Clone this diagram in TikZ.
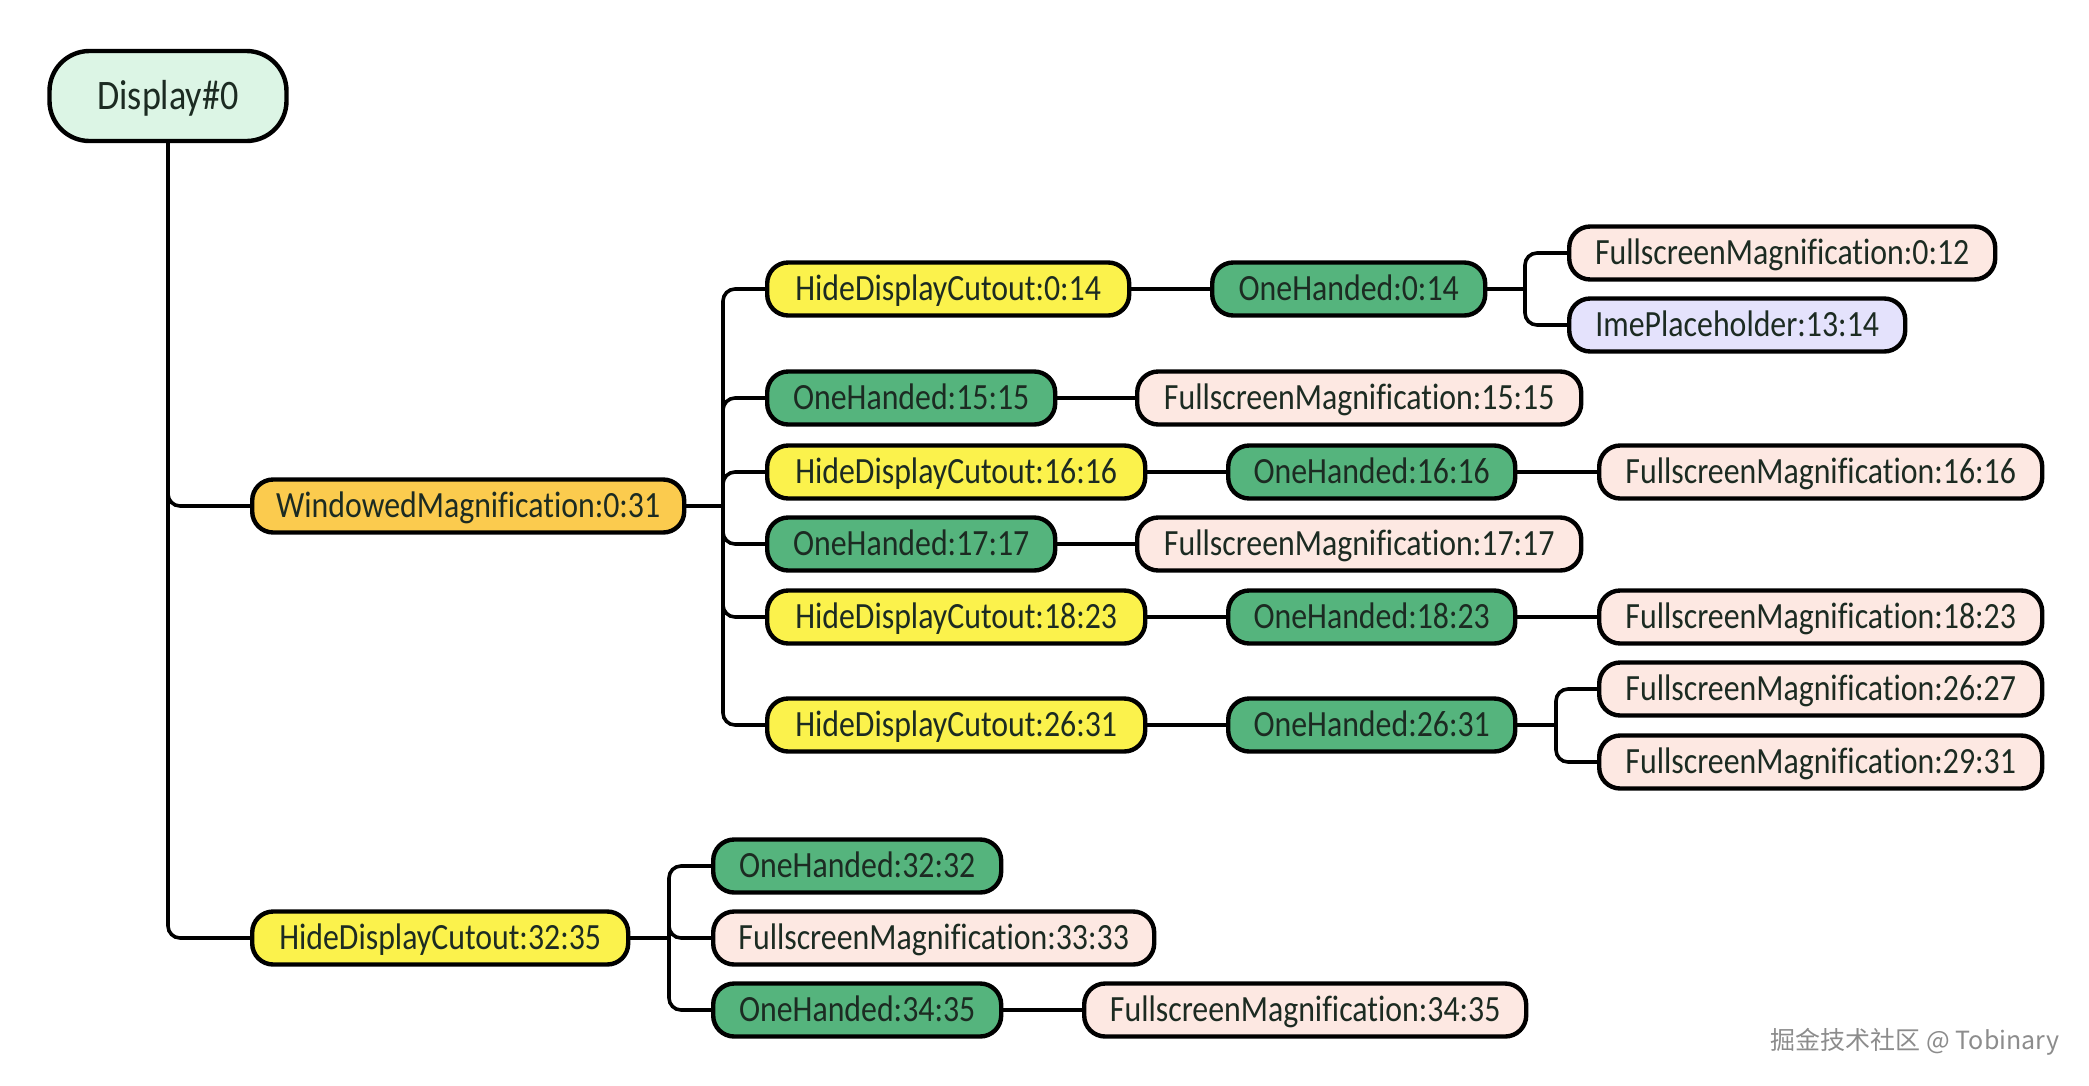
\documentclass[tikz,border=0pt]{standalone}
\usepackage{fontspec}
\setmainfont{Carlito}[FakeStretch=0.86, Ligatures=NoCommon]
\newfontfamily\cjk{Noto Sans CJK SC}
\usetikzlibrary{calc}
\definecolor{txt}{HTML}{1C2B22}
\definecolor{mint}{HTML}{DCF5E5}
\definecolor{amber}{HTML}{FBCB4E}
\definecolor{yel}{HTML}{FBF24C}
\definecolor{grn}{HTML}{55B47D}
\definecolor{pnk}{HTML}{FDE8E2}
\definecolor{lav}{HTML}{E4E2FC}
\begin{document}
\begin{tikzpicture}[x=1pt,y=-1pt,
  box/.style={draw=black, line width=4.4pt, rounded corners=21pt, minimum height=53pt,
    inner sep=0pt, text height=24.5pt, text depth=1.5pt,
    font=\fontsize{37}{40}\selectfont, text=txt, anchor=west},
  wmbox/.style={box, fill=amber},
  hdc/.style={box, fill=yel},
  oh/.style={box, fill=grn},
  fm/.style={box, fill=pnk},
  ime/.style={box, fill=lav},
  conn/.style={draw=black, line width=3.6pt, rounded corners=12pt}]
\useasboundingbox (0,0) rectangle (2089,1085);

% root
\node[draw=black, line width=4.4pt, rounded corners=40pt, fill=mint, minimum width=237pt,
  minimum height=90pt, inner sep=0pt, text height=28pt, text depth=2pt,
  font=\fontsize{42}{46}\selectfont, text=txt] (d) at (168,96) {Display\#0};

% level 1
\node[wmbox, minimum width=432pt] (wm) at (250,506) {WindowedMagnification:0:31};
\node[hdc, minimum width=376pt] (h3235) at (250,938) {HideDisplayCutout:32:35};

% level 2 (under WindowedMagnification)
\node[hdc, minimum width=362pt] (h014) at (765,289) {HideDisplayCutout:0:14};
\node[oh, minimum width=288pt] (o1515) at (765,398) {OneHanded:15:15};
\node[hdc, minimum width=378pt] (h1616) at (765,472) {HideDisplayCutout:16:16};
\node[oh, minimum width=288pt] (o1717) at (765,544) {OneHanded:17:17};
\node[hdc, minimum width=378pt] (h1823) at (765,617) {HideDisplayCutout:18:23};
\node[hdc, minimum width=378pt] (h2631) at (765,725) {HideDisplayCutout:26:31};

% level 3
\node[oh, minimum width=273pt] (o014) at (1210,289) {OneHanded:0:14};
\node[fm, minimum width=444pt] (f1515) at (1135,398) {FullscreenMagnification:15:15};
\node[oh, minimum width=287pt] (o1616) at (1226,472) {OneHanded:16:16};
\node[fm, minimum width=444pt] (f1717) at (1135,544) {FullscreenMagnification:17:17};
\node[oh, minimum width=287pt] (o1823) at (1226,617) {OneHanded:18:23};
\node[oh, minimum width=287pt] (o2631) at (1226,725) {OneHanded:26:31};

% level 4
\node[fm, minimum width=426pt] (f012) at (1567,253) {FullscreenMagnification:0:12};
\node[ime, minimum width=336pt] (ime) at (1567,325) {ImePlaceholder:13:14};
\node[fm, minimum width=443pt] (f1616) at (1597,472) {FullscreenMagnification:16:16};
\node[fm, minimum width=443pt] (f1823) at (1597,617) {FullscreenMagnification:18:23};
\node[fm, minimum width=443pt] (f2627) at (1597,689) {FullscreenMagnification:26:27};
\node[fm, minimum width=443pt] (f2931) at (1597,762) {FullscreenMagnification:29:31};

% under HideDisplayCutout:32:35
\node[oh, minimum width=288pt] (o3232) at (711,866) {OneHanded:32:32};
\node[fm, minimum width=441pt] (f3333) at (711,938) {FullscreenMagnification:33:33};
\node[oh, minimum width=288pt] (o3435) at (711,1010) {OneHanded:34:35};
\node[fm, minimum width=442pt] (f3435) at (1082,1010) {FullscreenMagnification:34:35};

% watermark
\node[font=\cjk\fontsize{25}{28}\selectfont, text=black!45] (wmk) at (1915,1042) {掘金技术社区 @ Tobinary};

% junction coordinates
\coordinate (jwm) at (723,506);
\coordinate (jo014) at (1525,289);
\coordinate (jo2631) at (1556,725);
\coordinate (jh3235) at (669,938);

% root trunk
\draw[conn] (d.south) |- (wm.west);
\draw[conn] (d.south) |- (h3235.west);

% WindowedMagnification bracket
\draw[conn] (wm.east) -- (jwm);
\foreach \c in {h014,o1515,h1616,o1717,h1823,h2631}
  \draw[conn] (jwm) |- (\c.west);

% simple links
\draw[conn] (h014.east) -- (o014.west);
\draw[conn] (o1515.east) -- (f1515.west);
\draw[conn] (h1616.east) -- (o1616.west);
\draw[conn] (o1616.east) -- (f1616.west);
\draw[conn] (o1717.east) -- (f1717.west);
\draw[conn] (h1823.east) -- (o1823.west);
\draw[conn] (o1823.east) -- (f1823.west);
\draw[conn] (h2631.east) -- (o2631.west);
\draw[conn] (o3435.east) -- (f3435.west);

% OneHanded:0:14 bracket
\draw[conn] (o014.east) -- (jo014);
\draw[conn] (jo014) |- (f012.west);
\draw[conn] (jo014) |- (ime.west);

% OneHanded:26:31 bracket
\draw[conn] (o2631.east) -- (jo2631);
\draw[conn] (jo2631) |- (f2627.west);
\draw[conn] (jo2631) |- (f2931.west);

% HideDisplayCutout:32:35 bracket
\draw[conn] (h3235.east) -- (jh3235);
\draw[conn] (jh3235) |- (o3232.west);
\draw[conn] (jh3235) |- (f3333.west);
\draw[conn] (jh3235) |- (o3435.west);
\end{tikzpicture}
\end{document}
